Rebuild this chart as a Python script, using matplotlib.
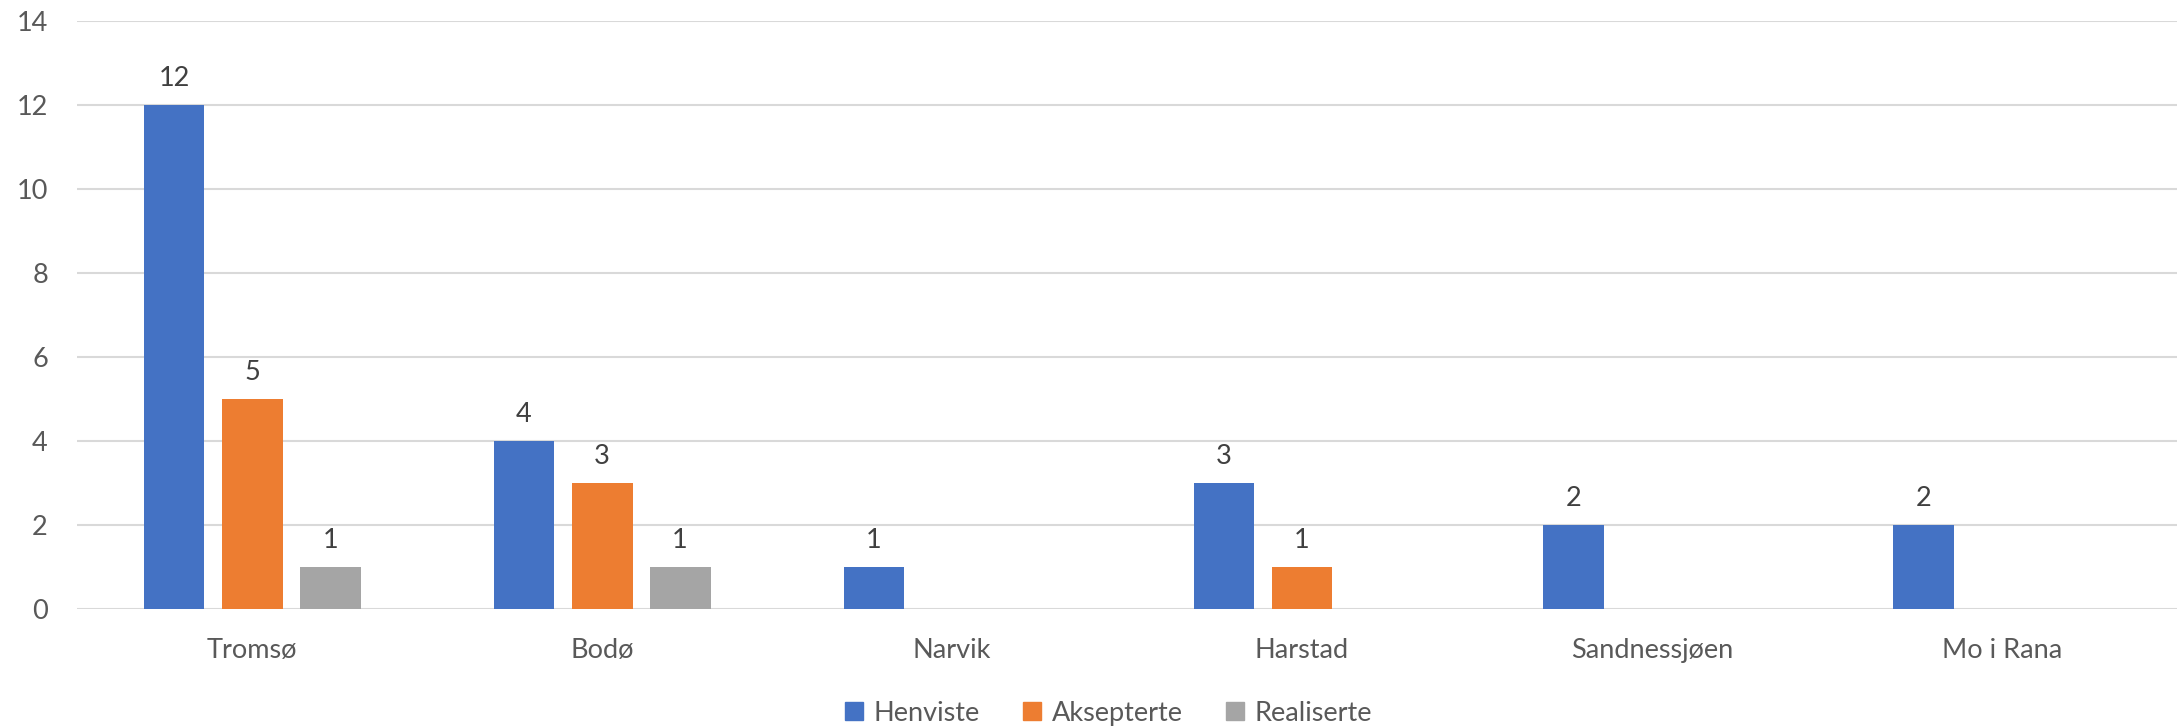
import numpy as np
import matplotlib
matplotlib.use("Agg")
import matplotlib.pyplot as plt
from matplotlib.patches import Patch

plt.rcParams['font.family'] = ['Lato', 'DejaVu Sans']

cities = ['Tromsø', 'Bodø', 'Narvik', 'Harstad', 'Sandnessjøen', 'Mo i Rana']
henviste = [12, 4, 1, 3, 2, 2]
aksepterte = [5, 3, None, 1, None, None]
realiserte = [1, 1, None, None, None, None]

series_names = ['Henviste', 'Aksepterte', 'Realiserte']
colours = ['#4472C4', '#ED7D31', '#A5A5A5']
text_col = '#595959'
fs = 19.5

fig = plt.figure(figsize=(21.78, 7.28), dpi=100)
ax = fig.add_axes([0.0354, 0.1635, 0.9641, 0.8077])

x = np.arange(len(cities))
width = 0.174
step = 0.223

for i, (vals, col) in enumerate(zip([henviste, aksepterte, realiserte], colours)):
    offs = (i - 1) * step
    for xi, v in zip(x, vals):
        if v is None:
            continue
        ax.bar(xi + offs, v, width, color=col, zorder=3)
        ax.annotate(str(v), (xi + offs, v), xytext=(0, 14), textcoords='offset points',
                    ha='center', va='baseline', fontsize=fs, color='#404040')

ax.set_xlim(-0.5, len(cities) - 0.5)
ax.set_ylim(0, 14)
ax.set_yticks(range(0, 15, 2))
ax.set_xticks(x)
ax.set_xticklabels(cities)

ax.grid(axis='y', color='#D9D9D9', linewidth=1.5, zorder=0)
for s in ax.spines.values():
    s.set_visible(False)
ax.tick_params(axis='both', length=0, labelsize=fs, labelcolor=text_col)
ax.tick_params(axis='y', pad=21)
ax.tick_params(axis='x', pad=21)

handles = [Patch(color=c, label=n) for c, n in zip(colours, series_names)]
fig.legend(handles=handles, loc='center', bbox_to_anchor=(0.509, 0.02), ncol=3,
           frameon=False, fontsize=fs, labelcolor=text_col,
           handlelength=0.65, handleheight=0.65, handletextpad=0.4, columnspacing=1.6)

fig.savefig('out.png', dpi=100)
